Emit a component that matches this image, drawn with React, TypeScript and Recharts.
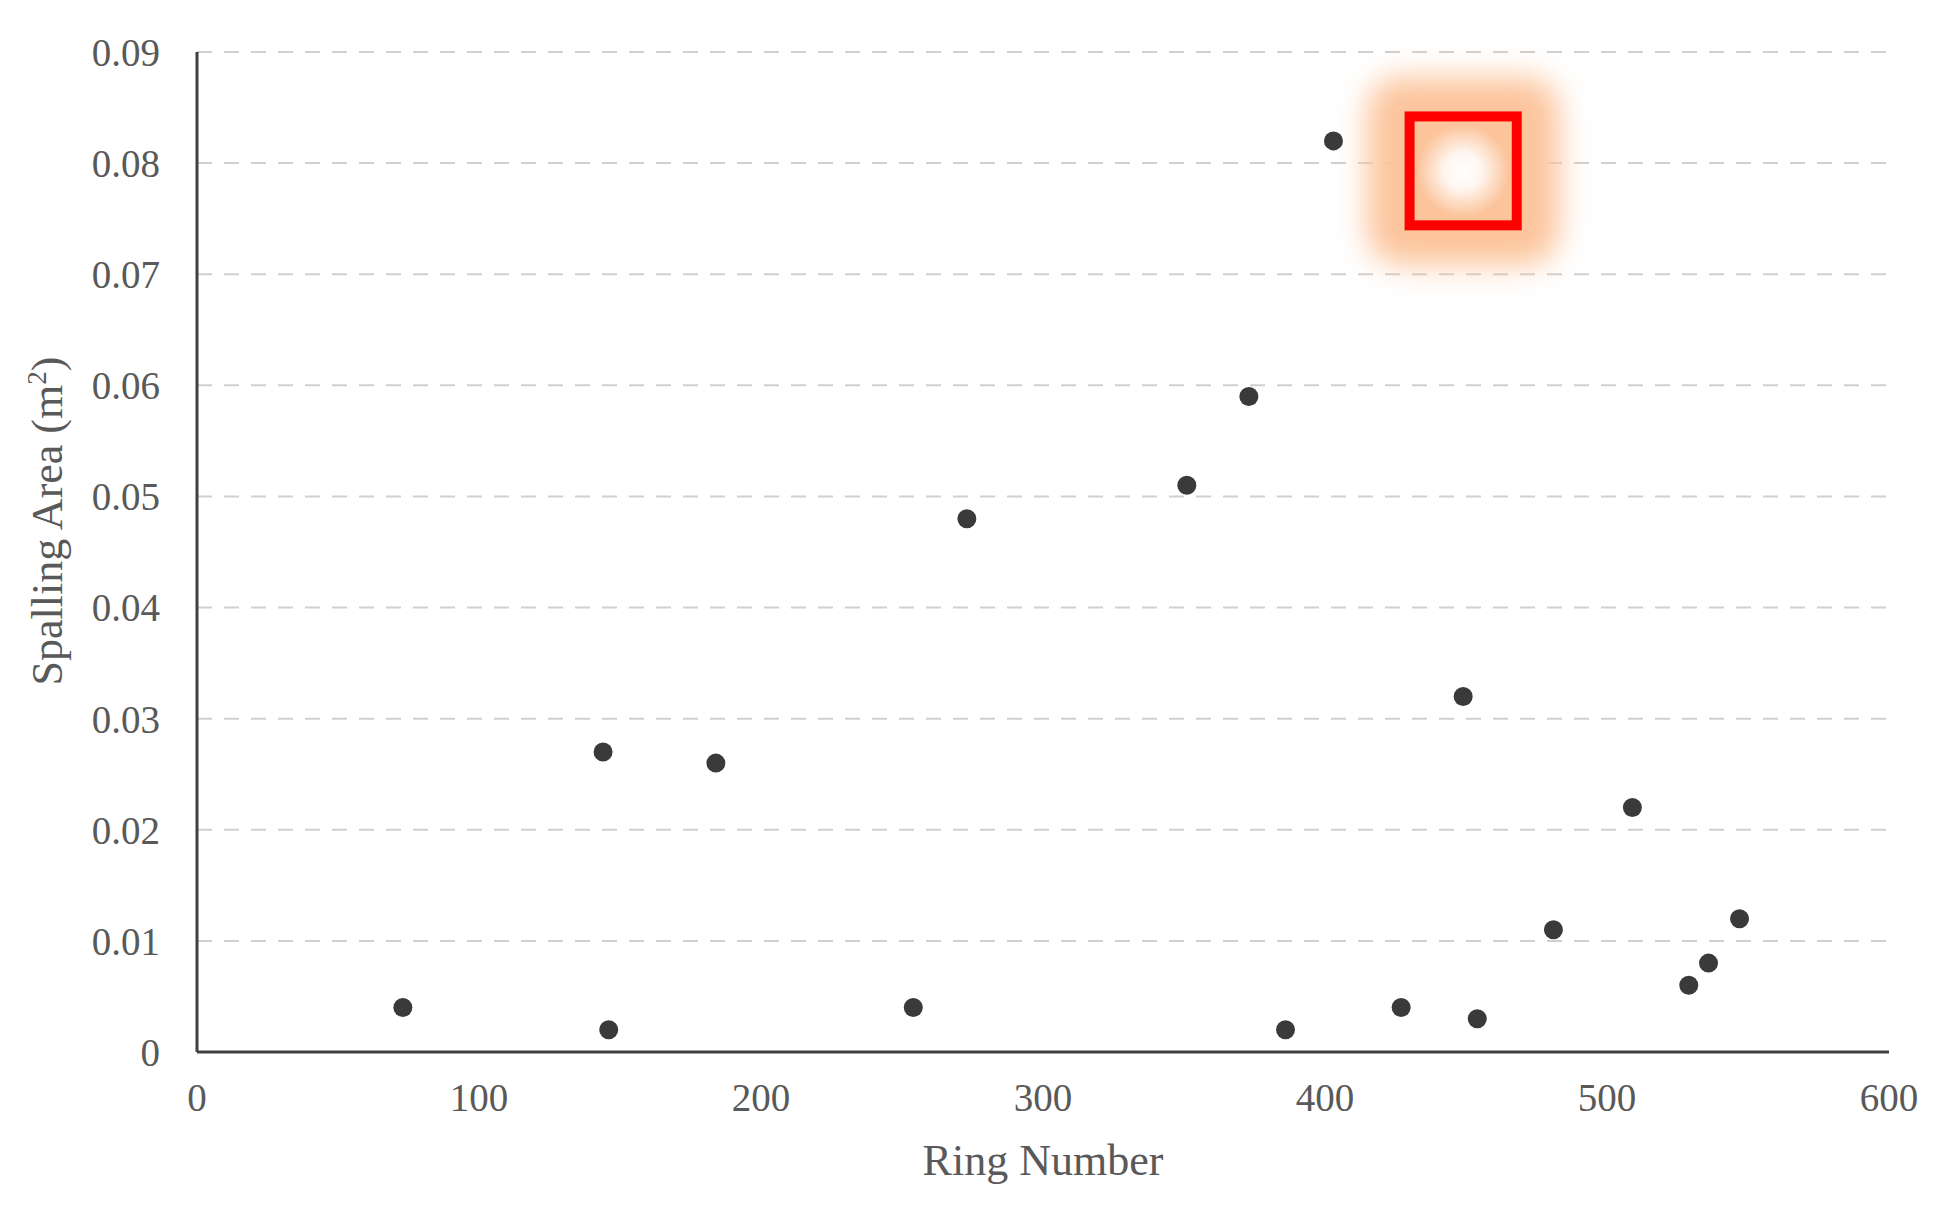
import React from "react";
import {
  ScatterChart, Scatter, XAxis, YAxis, CartesianGrid, ReferenceArea
} from "recharts";

// Ring number vs spalling area (m²)
const ringNumbers = [73, 144, 146, 184, 254, 273, 351, 373, 386, 403, 427, 449, 454, 481, 509, 529, 536, 547];
const spallingArea = [0.004, 0.027, 0.002, 0.026, 0.004, 0.048, 0.051, 0.059, 0.002, 0.082, 0.004, 0.032, 0.003, 0.011, 0.022, 0.006, 0.008, 0.012];

const xTicks = [0, 100, 200, 300, 400, 500, 600];
const yTicks = [0, 0.01, 0.02, 0.03, 0.04, 0.05, 0.06, 0.07, 0.08, 0.09];

// highlighted box (data coords)
const highlightX = [430, 468];
const highlightY = [0.0744, 0.0842];

const points = ringNumbers.map((r, i) => ({ ring: r, area: spallingArea[i] }));

const FONT = "'Liberation Serif', 'Times New Roman', serif";
const TEXT = "#595959";

function HighlightBox({ x, y, width, height }: any) {
  const cx = x + width / 2;
  const cy = y + height / 2;
  return (
    <g>
      <defs>
        <filter id="glowBlur" x="-50%" y="-50%" width="200%" height="200%">
          <feGaussianBlur stdDeviation="15" />
        </filter>
        <radialGradient id="glowCenter">
          <stop offset="0%" stopColor="#ffffff" stopOpacity={1} />
          <stop offset="40%" stopColor="#ffffff" stopOpacity={0.85} />
          <stop offset="100%" stopColor="#ffffff" stopOpacity={0} />
        </radialGradient>
      </defs>
      <rect x={cx - 96} y={cy - 94} width={192} height={188} rx={34} fill="#fcc49b" filter="url(#glowBlur)" />
      <circle cx={cx} cy={cy} r={46} fill="url(#glowCenter)" />
      <rect x={x} y={y} width={width} height={height} fill="none" stroke="#ff0000" strokeWidth={10} />
    </g>
  );
}

function YLabel() {
  return (
    <text
      transform="translate(54, 513) rotate(-90)"
      textAnchor="middle"
      fontFamily={FONT}
      fontSize={44}
      fill={TEXT}
    >
      Spalling Area (m<tspan dy={-16} fontSize={27}>2</tspan><tspan dy={16}>)</tspan>
    </text>
  );
}

export default function App() {
  return (
    <div style={{ width: 1944, height: 1190, background: "#fff" }}>
      <ScatterChart width={1944} height={1190} margin={{ top: 44, right: 63, bottom: 46, left: 0 }}>
        <CartesianGrid horizontal vertical={false} stroke="#d0d0d0" strokeWidth={2} strokeDasharray="15 12" />
        <XAxis
          type="number"
          dataKey="ring"
          domain={[0, 600]}
          ticks={xTicks}
          tickLine={false}
          tickSize={0}
          tickMargin={31}
          height={100}
          axisLine={{ stroke: "#404040", strokeWidth: 3 }}
          tick={{ fontSize: 39, fill: TEXT, fontFamily: FONT }}
          label={{ value: "Ring Number", position: "insideBottom", offset: -23, fontSize: 44, fill: TEXT, fontFamily: FONT }}
        />
        <YAxis
          type="number"
          dataKey="area"
          domain={[0, 0.09]}
          ticks={yTicks}
          interval={0}
          tickLine={false}
          tickSize={0}
          tickMargin={37}
          width={189}
          axisLine={{ stroke: "#404040", strokeWidth: 3 }}
          tick={{ fontSize: 39, fill: TEXT, fontFamily: FONT }}
          tickFormatter={(v: number) => (v === 0 ? "0" : v.toFixed(2))}
          label={<YLabel />}
        />
        <ReferenceArea
          x1={highlightX[0]} x2={highlightX[1]}
          y1={highlightY[0]} y2={highlightY[1]}
          ifOverflow="visible"
          shape={<HighlightBox />}
        />
        <Scatter
          data={points}
          fill="#3a3a3a"
          isAnimationActive={false}
          shape={(p: any) => <circle cx={p.cx} cy={p.cy} r={9.5} fill="#3a3a3a" />}
        />
      </ScatterChart>
    </div>
  );
}
